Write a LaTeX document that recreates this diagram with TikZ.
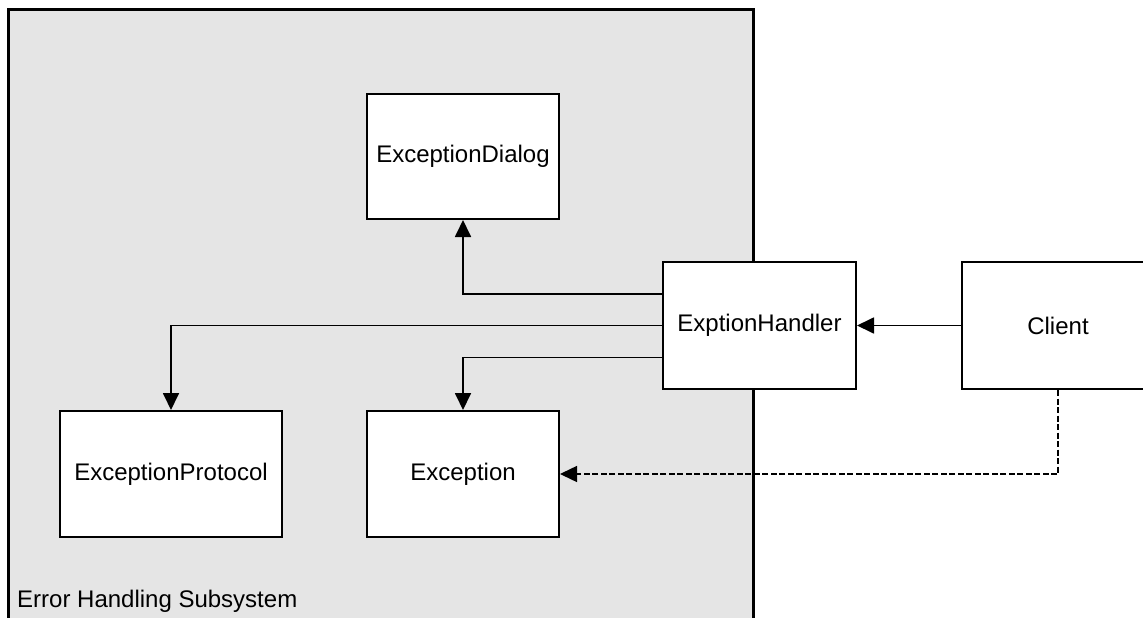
\documentclass[tikz,border=0pt]{standalone}
\usepackage{fontspec}
\setmainfont{Liberation Sans}
\usetikzlibrary{arrows.meta}
\definecolor{subsys}{HTML}{E5E5E5}
\begin{document}
\begin{tikzpicture}[x=1pt,y=-1pt,
  every node/.style={font=\fontsize{24}{28}\selectfont},
  cls/.style={draw=black,fill=white,line width=2pt,inner sep=0pt},
  conn/.style={line width=1.8pt,-{Triangle[length=17pt,width=16pt]}},
  dep/.style={line width=1.5pt,dash pattern=on 6pt off 2.5pt,-{Triangle[length=17pt,width=16pt]}}]
  \clip (0,0) rectangle (1143,618);
  \fill[white] (0,0) rectangle (1143,618);
  % subsystem package
  \draw[fill=subsys,line width=3pt] (8,640) -- (8,10) -- (753,10) -- (753,640);
  \node[anchor=base west,inner sep=0pt] (lbl) at (17,607) {Error Handling Subsystem};
  % classes
  \node[cls,minimum width=192pt,minimum height=125pt] (ED) at (463,156.5) {ExceptionDialog};
  \node[cls,minimum width=193pt,minimum height=127pt] (EH) at (759.5,325.5) {ExptionHandler};
  \node[cls,minimum width=192pt,minimum height=127pt] (CL) at (1058,325.5) {Client};
  \node[cls,minimum width=222pt,minimum height=126pt] (EP) at (171,474) {ExceptionProtocol};
  \node[cls,minimum width=192pt,minimum height=126pt] (EX) at (463,474) {Exception};
  % associations
  \draw[conn] ([yshift=31.5pt]EH.west) -| (ED.south);
  \draw[conn] (EH.west) -| (EP.north);
  \draw[conn] ([yshift=-32pt]EH.west) -| (EX.north);
  \draw[conn] (CL.west) -- (EH.east);
  \draw[dep] (CL.south) |- (EX.east);
\end{tikzpicture}
\end{document}
